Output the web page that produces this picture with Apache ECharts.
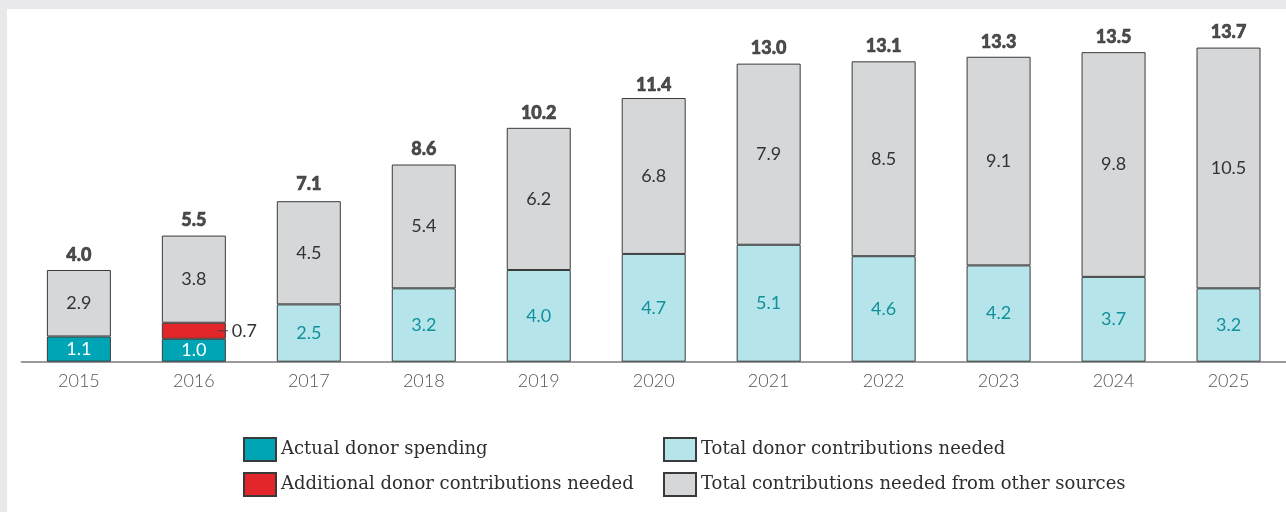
<!DOCTYPE html>
<html>
<head>
<meta charset="utf-8">
<style>
  html, body { margin: 0; padding: 0; background: #e9e9eb; }
  #chart { width: 1286px; height: 512px; }
</style>
<script src="https://cdn.jsdelivr.net/npm/echarts@6/dist/echarts.min.js"></script>
</head>
<body>
<div id="chart"></div>
<script>
// Years on the category axis
const years = ['2015', '2016', '2017', '2018', '2019', '2020', '2021', '2022', '2023', '2024', '2025'];

// Stacked segments (US$ billions)
const actualSpending = [1.1, 1.0, null, null, null, null, null, null, null, null, null];
const additionalNeeded = [null, 0.7, null, null, null, null, null, null, null, null, null];
const totalDonorNeeded = [null, null, 2.5, 3.2, 4.0, 4.7, 5.1, 4.6, 4.2, 3.7, 3.2];
const otherSources = [2.9, 3.8, 4.5, 5.4, 6.2, 6.8, 7.9, 8.5, 9.1, 9.8, 10.5];

// Totals printed above each column
const totals = [4.0, 5.5, 7.1, 8.6, 10.2, 11.4, 13.0, 13.1, 13.3, 13.5, 13.7];

const seriesNames = [
  'Actual donor spending',
  'Additional donor contributions needed',
  'Total donor contributions needed',
  'Total contributions needed from other sources'
];

const numFont = 'Lato, "Open Sans", sans-serif';
const legendFont = '"DejaVu Serif", serif';
const fmt = p => {
  const v = Array.isArray(p.value) ? p.value[1] : p.value;
  return v == null ? '' : Number(v).toFixed(1);
};

function segment(name, data, fill, labelColor) {
  return {
    name: name,
    type: 'bar',
    stack: 'all',
    data: data,
    barWidth: 64,
    silent: true,
    itemStyle: { color: fill, borderColor: '#3a3a3a', borderWidth: 1 },
    label: {
      show: true,
      position: 'inside',
      formatter: fmt,
      color: labelColor,
      fontFamily: numFont,
      fontSize: 18
    }
  };
}

function legendBlock(names, left) {
  return {
    data: names,
    orient: 'vertical',
    left: left,
    top: 437,
    padding: 0,
    itemWidth: 32,
    itemHeight: 23,
    itemGap: 10,
    selectedMode: false,
    icon: 'rect',
    textStyle: { color: '#2e2e2e', fontFamily: legendFont, fontSize: 18 }
  };
}

const chart = echarts.init(document.getElementById('chart'), null, { renderer: 'canvas' });

// The small extra segment gets its value beside the bar, joined by a short tick
const redSeries = segment(seriesNames[1], additionalNeeded, '#e3262a', '#333');
redSeries.label = {
  show: true,
  position: [56, '50%'],
  align: 'left',
  verticalAlign: 'middle',
  formatter: p => (p.value == null ? '' : '{d|}{v|' + Number(p.value).toFixed(1) + '}'),
  rich: {
    d: { width: 10, height: 1, backgroundColor: '#444' },
    v: { color: '#333', fontFamily: numFont, fontSize: 18, padding: [0, 0, 0, 4] }
  }
};

chart.setOption({
  backgroundColor: '#e9e9eb',
  animation: false,
  graphic: [{
    type: 'rect',
    z: -10,
    silent: true,
    shape: { x: 7, y: 9, width: 1279, height: 503 },
    style: { fill: '#ffffff' }
  }],
  grid: { left: 21.4, right: -2.6, top: 40.7, bottom: 150.3, containLabel: false },
  xAxis: {
    type: 'category',
    data: years,
    axisTick: { show: false },
    axisLine: { lineStyle: { color: '#7a7a7a', width: 1.5 } },
    axisLabel: {
      color: '#555',
      fontFamily: numFont,
      fontWeight: 300,
      fontSize: 18,
      margin: 10
    }
  },
  yAxis: { type: 'value', min: 0, max: 14, show: false, splitLine: { show: false } },
  legend: [
    legendBlock(seriesNames.slice(0, 2), 243),
    legendBlock(seriesNames.slice(2, 4), 663)
  ],
  series: [
    segment(seriesNames[0], actualSpending, '#00a5b5', '#ffffff'),
    redSeries,
    segment(seriesNames[2], totalDonorNeeded, '#b5e4ea', '#12909b'),
    segment(seriesNames[3], otherSources, '#d6d7d9', '#333333'),
    {
      // Column totals, placed at each total's own height
      name: 'Total',
      type: 'scatter',
      data: totals,
      symbol: 'circle',
      symbolSize: 2,
      silent: true,
      itemStyle: { color: 'rgba(0,0,0,0)' },
      z: 5,
      label: {
        show: true,
        position: 'top',
        distance: 5,
        formatter: fmt,
        color: '#222',
        textBorderColor: '#222',
        textBorderWidth: 0.6,
        fontFamily: numFont,
        fontWeight: 900,
        fontSize: 18
      }
    }
  ]
});
</script>
</body>
</html>
